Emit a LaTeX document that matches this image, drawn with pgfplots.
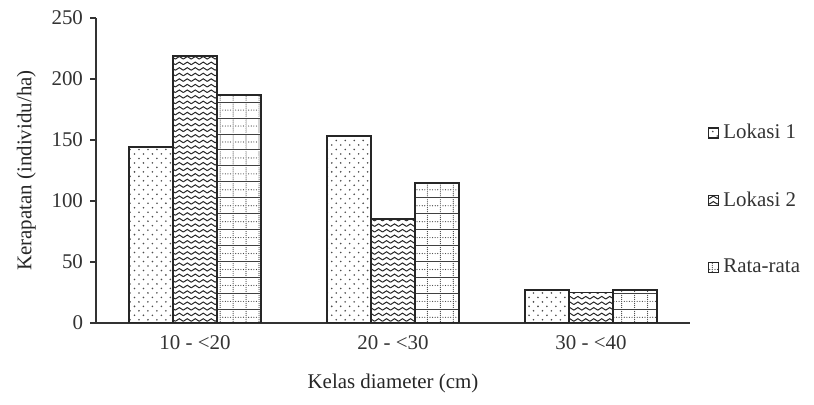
\documentclass[border=0pt]{standalone}
\usepackage{fontspec}
\setmainfont{Liberation Serif}
\usepackage{pgfplots}
\pgfplotsset{compat=1.18}
\usetikzlibrary{patterns}

% sparse staggered dots
\pgfdeclarepatternformonly{sparsedots}{\pgfqpoint{-0.5pt}{-0.5pt}}{\pgfqpoint{5pt}{5pt}}{\pgfqpoint{4.5pt}{4.5pt}}{%
  \pgfpathcircle{\pgfqpoint{0pt}{0pt}}{0.45pt}%
  \pgfpathcircle{\pgfqpoint{2.25pt}{2.25pt}}{0.45pt}%
  \pgfusepath{fill}}

% horizontal waves
\pgfdeclarepatternformonly{waves}{\pgfqpoint{-0.3pt}{-0.5pt}}{\pgfqpoint{4.3pt}{3pt}}{\pgfqpoint{4pt}{2.8pt}}{%
  \pgfsetlinewidth{0.5pt}%
  \pgfpathmoveto{\pgfqpoint{0pt}{0pt}}%
  \pgfpathcurveto{\pgfqpoint{1pt}{0pt}}{\pgfqpoint{1pt}{1.3pt}}{\pgfqpoint{2pt}{1.3pt}}%
  \pgfpathcurveto{\pgfqpoint{3pt}{1.3pt}}{\pgfqpoint{3pt}{0pt}}{\pgfqpoint{4pt}{0pt}}%
  \pgfusepath{stroke}}

% grid of solid and dotted lines
\pgfdeclarepatternformonly{dotgrid}{\pgfqpoint{-0.5pt}{-0.5pt}}{\pgfqpoint{7pt}{8.5pt}}{\pgfqpoint{6.5pt}{8pt}}{%
  \pgfsetlinewidth{0.5pt}%
  \pgfpathmoveto{\pgfqpoint{0pt}{0pt}}\pgfpathlineto{\pgfqpoint{6.5pt}{0pt}}%
  \pgfusepath{stroke}%
  \pgfpathcircle{\pgfqpoint{0pt}{1pt}}{0.3pt}%
  \pgfpathcircle{\pgfqpoint{0pt}{2pt}}{0.3pt}%
  \pgfpathcircle{\pgfqpoint{0pt}{3pt}}{0.3pt}%
  \pgfpathcircle{\pgfqpoint{0pt}{4pt}}{0.3pt}%
  \pgfpathcircle{\pgfqpoint{0pt}{5pt}}{0.3pt}%
  \pgfpathcircle{\pgfqpoint{0pt}{6pt}}{0.3pt}%
  \pgfpathcircle{\pgfqpoint{0pt}{7pt}}{0.3pt}%
  \pgfpathcircle{\pgfqpoint{1.3pt}{4pt}}{0.3pt}%
  \pgfpathcircle{\pgfqpoint{2.6pt}{4pt}}{0.3pt}%
  \pgfpathcircle{\pgfqpoint{3.9pt}{4pt}}{0.3pt}%
  \pgfpathcircle{\pgfqpoint{5.2pt}{4pt}}{0.3pt}%
  \pgfusepath{fill}}

\begin{document}
\begin{tikzpicture}
\begin{axis}[
  scale only axis, width=297bp, height=152.5bp,
  ybar=0pt, bar width=22bp,
  ymin=0, ymax=250, ytick={0,50,...,250},
  xmin=-0.5, xmax=2.5, xtick={0,1,2},
  xticklabels={10 - <20, 20 - <30, 30 - <40},
  axis x line*=bottom, axis y line*=left,
  axis line style={line width=0.9pt, -, black!80},
  x tick style={draw=none},
  y tick style={line width=0.7pt, black!80},
  tick align=outside, major tick length=3bp,
  xlabel={Kelas diameter (cm)}, ylabel={Kerapatan (individu/ha)},
  xlabel style={yshift=-5bp},
  ylabel style={yshift=1bp},
  /pgf/number format/assume math mode=true,
  tick label style={font=\fontsize{10.5}{12}\selectfont, black!80},
  label style={font=\fontsize{10.5}{12}\selectfont, black!85},
  legend image code/.code={\draw[#1, line width=0.6pt] (0bp,-2.5bp) rectangle (5bp,2.5bp);},
  legend style={draw=none, fill=none, at={(1.03,0.403)}, anchor=west,
    inner sep=0pt, row sep=21bp, font=\fontsize{10.5}{12}\selectfont,
    text=black!80, legend cell align=left},
]
\addplot[draw=black!85, line width=0.9pt, pattern=sparsedots, pattern color=black!70]
  coordinates {(0,144) (1,153) (2,27)};
\addplot[draw=black!85, line width=0.9pt, pattern=waves, pattern color=black!85]
  coordinates {(0,219) (1,85) (2,25)};
\addplot[draw=black!85, line width=0.9pt, pattern=dotgrid, pattern color=black!75]
  coordinates {(0,187) (1,115) (2,27)};
\legend{Lokasi 1, Lokasi 2, Rata-rata}
\end{axis}
\pgfresetboundingbox
\useasboundingbox (-48bp,-41bp) rectangle (359bp,161.5bp);
\end{tikzpicture}
\end{document}
